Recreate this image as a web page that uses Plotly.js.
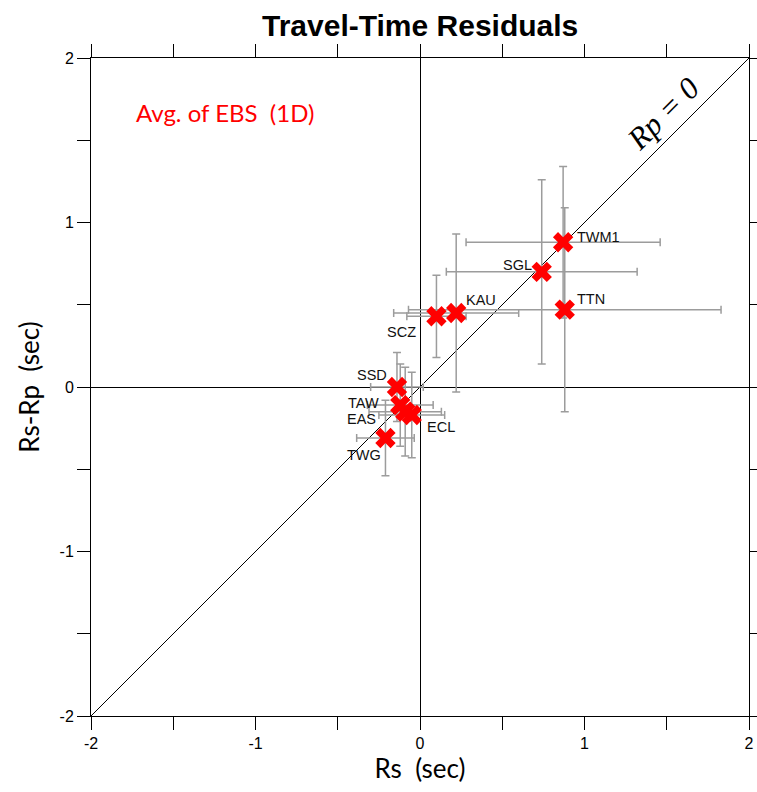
<!DOCTYPE html>
<html>
<head>
<meta charset="utf-8">
<script src="https://cdn.plot.ly/plotly-3.0.1.min.js"></script>
<style>html,body{margin:0;padding:0;background:#fff;}#chart{width:757px;height:792px;}</style>
</head>
<body>
<div id="chart"></div>
<script>
// ---- data ----
const stations = ['TWM1','SGL','TTN','KAU','SCZ','SSD','TAW','EAS','ECL','TWG'];
const rs       = [0.87, 0.74, 0.88, 0.22, 0.10, -0.14, -0.12, -0.09, -0.05, -0.21];
const rsRp     = [0.88, 0.70, 0.47, 0.45, 0.43, 0.00, -0.11, -0.15, -0.17, -0.31];
const rsErr    = [0.59, 0.58, 0.95, 0.38, 0.18, 0.16, 0.20, 0.22, 0.20, 0.175];
const rsRpErr  = [0.46, 0.56, 0.62, 0.48, 0.25, 0.21, 0.25, 0.27, 0.26, 0.23];
const lineX    = [-2, 2];
const lineY    = [-2, 2];
const tickVals = [-2, -1.5, -1, -0.5, 0, 0.5, 1, 1.5, 2];
const tickText = ['-2', '', '-1', '', '0', '', '1', '', '2'];

// ---- label placement (style) ----
const labelStyle = {
  TWM1: {xa:'left',  dx:12,  dy:5},
  SGL:  {xa:'right', dx:-8,  dy:7},
  TTN:  {xa:'left',  dx:10,  dy:11},
  KAU:  {xa:'left',  dx:8,   dy:13},
  SCZ:  {xa:'right', dx:-18, dy:-16},
  SSD:  {xa:'right', dx:-8,  dy:12},
  TAW:  {xa:'right', dx:-19, dy:2},
  EAS:  {xa:'right', dx:-27, dy:-7},
  ECL:  {xa:'left',  dx:13,  dy:-12},
  TWG:  {xa:'right', dx:-2,  dy:-17}
};

const traces = [
  {x: lineX, y: lineY, mode: 'lines', line: {color: '#000', width: 1}, hoverinfo: 'skip', showlegend: false},
  {
    x: rs, y: rsRp, mode: 'markers', type: 'scatter', showlegend: false,
    marker: {symbol: 'x', size: 18, color: '#ff0000', line: {width: 0}},
    error_x: {type: 'data', array: rsErr, visible: true, color: '#9c9c9c', thickness: 1.5, width: 4},
    error_y: {type: 'data', array: rsRpErr, visible: true, color: '#9c9c9c', thickness: 1.5, width: 4}
  }
];

const annotations = stations.map((s, i) => ({
  x: rs[i], y: rsRp[i], xref: 'x', yref: 'y', text: s, showarrow: false,
  xanchor: labelStyle[s].xa, yanchor: 'middle',
  xshift: labelStyle[s].dx, yshift: labelStyle[s].dy,
  font: {family: 'Liberation Sans, Arial', size: 14.5, color: '#111'}
}));
annotations.push({
  x: -1.74, y: 1.666, xref: 'x', yref: 'y', text: 'Avg. of EBS  (1D)', showarrow: false,
  xanchor: 'left', yanchor: 'middle',
  font: {family: 'Lato, Open Sans', size: 24, color: '#ff0000'}
});
annotations.push({
  x: 1.477, y: 1.664, xref: 'x', yref: 'y', text: 'Rp = 0', showarrow: false,
  textangle: -45, xanchor: 'center', yanchor: 'middle',
  font: {family: 'Liberation Serif, Times New Roman, serif', size: 31, color: '#000', style: 'italic'}
});

const axisCommon = {
  range: [-2, 2], tickmode: 'array', tickvals: tickVals, ticktext: tickText,
  ticks: 'outside', ticklen: 13, tickwidth: 1, tickcolor: '#000',
  showline: true, linecolor: '#000', linewidth: 1, mirror: 'ticks',
  showgrid: false, zeroline: true, zerolinecolor: '#000', zerolinewidth: 1,
  tickfont: {family: 'Liberation Sans, Arial', size: 16, color: '#000'},
  fixedrange: true
};

const layout = {
  width: 757, height: 792,
  margin: {l: 91, r: 8, t: 58, b: 76},
  paper_bgcolor: '#fff', plot_bgcolor: '#fff',
  title: {text: '<b>Travel-Time Residuals</b>', x: 0.555, xanchor: 'center', y: 0.968, yanchor: 'middle',
          font: {family: 'Liberation Sans Narrow, Arial Narrow, Liberation Sans', size: 30, color: '#000'}},
  xaxis: Object.assign({}, axisCommon, {
    title: {text: 'Rs  (sec)', standoff: 6, font: {family: 'Lato, Open Sans', size: 26, color: '#000'}}
  }),
  yaxis: Object.assign({}, axisCommon, {
    title: {text: 'Rs-Rp  (sec)', standoff: 12, font: {family: 'Lato, Open Sans', size: 26, color: '#000'}}
  }),
  annotations: annotations,
  showlegend: false
};

Plotly.newPlot('chart', traces, layout, {displayModeBar: false, staticPlot: true});
</script>
</body>
</html>
